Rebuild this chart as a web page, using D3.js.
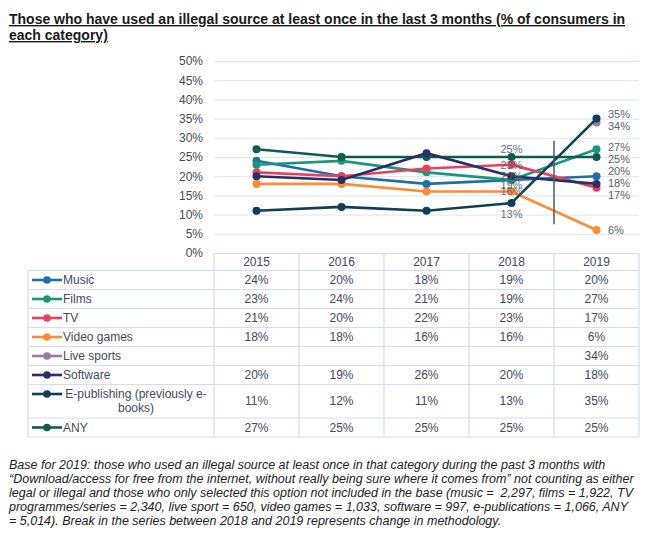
<!DOCTYPE html>
<html>
<head>
<meta charset="utf-8">
<script src="https://cdn.jsdelivr.net/npm/d3@7"></script>
<style>
  body { margin: 0; background: #fff; }
  text { font-family: "Liberation Sans", Arial, sans-serif; }
</style>
</head>
<body>
<script>
// data
var years = ["2015", "2016", "2017", "2018", "2019"];
var seriesNames = ["Music", "Films", "TV", "Video games", "Live sports", "Software", "E-publishing (previously e-books)", "ANY"];
var music      = [24, 20, 18, 19, 20];
var films      = [23, 24, 21, 19, 27];
var tv         = [21, 20, 22, 23, 17];
var videoGames = [18, 18, 16, 16, 6];
var liveSports = [null, null, null, null, 34];
var software   = [20, 19, 26, 20, 18];
var ePub       = [11, 12, 11, 13, 35];
var anyCat     = [27, 25, 25, 25, 25];
var yTicks = [0, 5, 10, 15, 20, 25, 30, 35, 40, 45, 50];

var values = [music, films, tv, videoGames, liveSports, software, ePub, anyCat];
var colors = ["#1f6fa3", "#19977d", "#e9405f", "#fd8b37", "#9a7aa3", "#263064", "#103d58", "#0e5d4c"];

var W = 650, H = 533;
var svg = d3.select("body").append("svg").attr("width", W).attr("height", H);

// title
var title = svg.append("text")
  .attr("x", 9).attr("y", 24)
  .style("font-size", "14px").style("font-weight", "bold")
  .style("text-decoration", "underline").attr("fill", "#1a1a1a");
title.append("tspan").attr("x", 9).attr("y", 24)
  .text("Those who have used an illegal source at least once in the last 3 months (% of consumers in");
title.append("tspan").attr("x", 9).attr("y", 40).text("each category)");

// scales
var x = d3.scaleBand().domain(years).range([214, 639]);
var y = d3.scaleLinear().domain([0, 50]).range([253, 61]);
var cx = function (yr) { return x(yr) + x.bandwidth() / 2; };

var gridColor = "#dce5f3";
var textColor = "#424a5c";

// grid + y axis
var yAxis = svg.append("g")
  .attr("transform", "translate(214,0)")
  .call(d3.axisLeft(y).tickValues(yTicks).tickSize(-425).tickPadding(11)
    .tickFormat(function (d) { return d + "%"; }));
yAxis.select(".domain").remove();
yAxis.selectAll("line").attr("stroke", gridColor);
yAxis.selectAll("text").attr("fill", textColor).style("font-size", "12px")
  .style("font-family", "'Liberation Sans', Arial, sans-serif");

// lines
var line = d3.line()
  .defined(function (d) { return d != null; })
  .x(function (d, i) { return cx(years[i]); })
  .y(function (d) { return y(d); });

var drawOrder = [4, 0, 1, 2, 3, 7, 5, 6];
drawOrder.forEach(function (s) {
  svg.append("path").datum(values[s])
    .attr("d", line).attr("fill", "none")
    .attr("stroke", colors[s]).attr("stroke-width", 2.6);
  svg.selectAll(null).data(values[s].map(function (v, i) { return { v: v, i: i }; })
      .filter(function (d) { return d.v != null; }))
    .enter().append("circle")
    .attr("cx", function (d) { return cx(years[d.i]); })
    .attr("cy", function (d) { return y(d.v); })
    .attr("r", 4).attr("fill", colors[s]);
});

// break in series
svg.append("line")
  .attr("x1", x("2019")).attr("x2", x("2019"))
  .attr("y1", y(29.2)).attr("y2", y(7.5))
  .attr("stroke", "#4a5870").attr("stroke-width", 1.5);

// labels at 2018 (vertical shift per series, null = no label)
var labelColor = "#5a5f6a";
var shift2018 = { 1: 5, 2: 0, 3: 0, 5: 0, 6: 11, 7: -8 };
Object.keys(shift2018).forEach(function (k) {
  var s = +k;
  var v = values[s][3];
  svg.append("text")
    .attr("x", cx("2018")).attr("y", y(v) + shift2018[k])
    .attr("dy", "0.35em").attr("text-anchor", "middle")
    .attr("fill", labelColor).attr("opacity", 0.9)
    .style("font-size", "11px").text(v + "%");
});

// labels at 2019, pushed apart
var end = values.map(function (vals) { return { v: vals[4], pos: y(vals[4]) }; })
  .sort(function (a, b) { return a.pos - b.pos; });
var gap = 12;
for (var it = 0; it < 50; it++) {
  for (var j = 1; j < end.length; j++) {
    var d = end[j].pos - end[j - 1].pos;
    if (d < gap) {
      var m = (gap - d) / 2;
      end[j - 1].pos -= m; end[j].pos += m;
    }
  }
}
end.forEach(function (e) {
  svg.append("text")
    .attr("x", 608).attr("y", e.pos).attr("dy", "0.35em")
    .attr("fill", labelColor).style("font-size", "11px").text(e.v + "%");
});

// data table
var rowH = [19, 19, 19, 19, 19, 19, 33.5, 19];
var tableTop = 270.5, left = 28, right = 639;
var rowY = [tableTop];
rowH.forEach(function (h, i) { rowY.push(rowY[i] + h); });
var tb = svg.append("g");

// horizontal borders
tb.append("line").attr("x1", 214).attr("x2", right).attr("y1", 253.5).attr("y2", 253.5);
rowY.forEach(function (ry) {
  tb.append("line").attr("x1", left).attr("x2", right).attr("y1", ry).attr("y2", ry);
});
// vertical borders
tb.append("line").attr("x1", left).attr("x2", left).attr("y1", tableTop).attr("y2", rowY[rowY.length - 1]);
years.forEach(function (yr) {
  tb.append("line").attr("x1", x(yr)).attr("x2", x(yr)).attr("y1", 253.5).attr("y2", rowY[rowY.length - 1]);
});
tb.append("line").attr("x1", right).attr("x2", right).attr("y1", 253.5).attr("y2", rowY[rowY.length - 1]);
tb.selectAll("line").attr("stroke", "#d2ddef").attr("stroke-width", 1.2);

// header
years.forEach(function (yr) {
  tb.append("text").attr("x", cx(yr)).attr("y", 262).attr("dy", "0.35em")
    .attr("text-anchor", "middle").attr("fill", textColor).style("font-size", "12px").text(yr);
});

// rows
seriesNames.forEach(function (name, s) {
  var mid = rowY[s] + rowH[s] / 2;
  var legY = s === 6 ? rowY[s] + 9.5 : mid;
  tb.append("line").attr("x1", 32).attr("x2", 62).attr("y1", legY).attr("y2", legY)
    .attr("stroke", colors[s]).attr("stroke-width", 2.6);
  tb.append("circle").attr("cx", 47).attr("cy", legY).attr("r", 3.8).attr("fill", colors[s]);
  if (s === 6) {
    tb.append("text").attr("x", 136).attr("y", legY).attr("dy", "0.35em").attr("text-anchor", "middle")
      .attr("fill", textColor).style("font-size", "12px").text("E-publishing (previously e-");
    tb.append("text").attr("x", 136).attr("y", legY + 14).attr("dy", "0.35em").attr("text-anchor", "middle")
      .attr("fill", textColor).style("font-size", "12px").text("books)");
  } else {
    tb.append("text").attr("x", 63).attr("y", legY).attr("dy", "0.35em")
      .attr("fill", textColor).style("font-size", "12px").text(name);
  }
  values[s].forEach(function (v, i) {
    if (v == null) return;
    tb.append("text").attr("x", cx(years[i])).attr("y", mid).attr("dy", "0.35em")
      .attr("text-anchor", "middle").attr("fill", textColor).style("font-size", "12px").text(v + "%");
  });
});

// footnote
var notes = [
  "Base for 2019: those who used an illegal source at least once in that category during the past 3 months with",
  "\u201CDownload/access for free from the internet, without really being sure where it comes from\u201D not counting as either",
  "legal or illegal and those who only selected this option not included in the base (music =  2,297, films = 1,922, TV",
  "programmes/series = 2,340, live sport = 650, video games = 1,033, software = 997, e-publications = 1,066, ANY",
  "= 5,014). Break in the series between 2018 and 2019 represents change in methodology."
];
notes.forEach(function (t, i) {
  svg.append("text").attr("x", 9).attr("y", 469 + i * 14)
    .style("font-size", "12.5px").style("font-style", "italic")
    .attr("fill", "#222").style("white-space", "pre").text(t);
});
</script>
</body>
</html>
